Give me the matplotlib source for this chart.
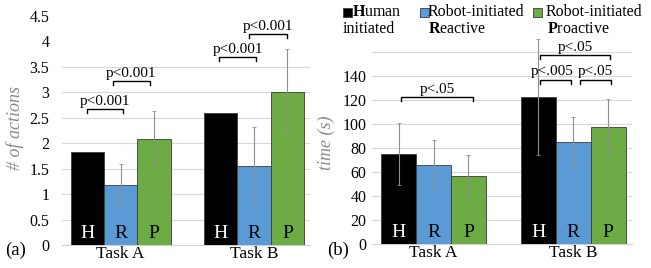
import matplotlib
matplotlib.use("Agg")
import matplotlib.pyplot as plt
import numpy as np
from matplotlib.transforms import blended_transform_factory
from matplotlib.patches import Rectangle

plt.rcParams['font.family'] = ['Liberation Serif', 'DejaVu Serif']
plt.rcParams['mathtext.fontset'] = 'custom'
plt.rcParams['mathtext.rm'] = 'Liberation Serif'
plt.rcParams['mathtext.bf'] = 'Liberation Serif:bold'

# ---- data ----
tasks = ["Task A", "Task B"]
series_letters = ["H", "R", "P"]
series_colors = ["#000000", "#5B9BD5", "#6DAB45"]
letter_colors = ["white", "black", "black"]

# (a) number of actions
actions_H = [1.83, 2.60]
actions_R = [1.18, 1.55]
actions_P = [2.08, 3.01]
actions_err_H = [0.0, 0.0]
actions_err_R = [0.42, 0.77]
actions_err_P = [0.55, 0.84]
a_ticks = [0, 0.5, 1, 1.5, 2, 2.5, 3, 3.5, 4, 4.5]
a_ticklabels = ["0", "0.5", "1", "1.5", "2", "2.5", "3", "3.5", "4", "4.5"]

# (b) time (s)
time_H = [75, 122.5]
time_R = [66, 85]
time_P = [57, 97.5]
time_err_H = [26, 48]
time_err_R = [21, 21]
time_err_P = [17, 23]
b_ticks = [0, 20, 40, 60, 80, 100, 120, 140, 160, 180]
b_ticklabels = ["0", "20", "40", "60", "80", "100", "120", "140", "", ""]

# brackets: (group, from bar idx, to bar idx, y, label, x shift of ends, text x shift)
a_brackets = [(0, 0, 1, 2.68, "p<0.001", (0.0, 0.02), 0.0),
              (0, 1, 2, 3.23, "p<0.001", (-0.06, -0.03), 0.0),
              (1, 0, 1, 3.70, "p<0.001", (-0.01, 0.015), 0.0),
              (1, 1, 2, 4.15, "p<0.001", (-0.04, -0.005), 0.0)]
b_brackets = [(0, 0, 2, 122.5, "p<.05", (0.02, 0.03), 0.0),
              (1, 0, 1, 137, "p<.005", (0.01, -0.015), -0.02),
              (1, 1, 2, 137, "p<.05", (0.05, 0.02), 0.0),
              (1, 0, 2, 157.5, "p<.05", (0.01, 0.015), 0.0)]

fig = plt.figure(figsize=(6.51, 2.68), dpi=100)
W, H = 651, 268
ax_a = fig.add_axes([62 / W, (H - 245) / H, 248 / W, 229 / H])
ax_b = fig.add_axes([372 / W, (H - 244) / H, 260 / W, 216 / H])

bw = 0.25
x = np.arange(len(tasks))
grid_col = "#d9d9d9"
err_col = "#8f8f8f"


def draw(ax, vals, errs, ticks, ticklabels, ylim, maxgrid, brackets, tick_len, ylabel, lab_xy, txt_off, tickpad):
    ax.set_ylim(*ylim)
    ax.set_xlim(-0.44, 1.42)
    tr = blended_transform_factory(ax.transData, ax.transAxes)
    for s, (v, e) in enumerate(zip(vals, errs)):
        xs = x + (s - 1) * bw
        ax.bar(xs, v, width=bw, color=series_colors[s], edgecolor="#3a3a3a",
               linewidth=0.6, zorder=3)
        for xi, vi, ei in zip(xs, v, e):
            if ei > 0:
                ax.errorbar([xi], [vi], yerr=[ei], fmt="none", ecolor=err_col,
                            elinewidth=0.8, capsize=1.5, capthick=0.6, zorder=4)
        for xi in xs:
            ax.text(xi, 0.012, series_letters[s], transform=tr, ha="center", va="bottom",
                    color=letter_colors[s], fontsize=14, zorder=5)
    ax.set_yticks(ticks)
    ax.set_yticklabels(ticklabels, fontsize=11.5)
    ax.tick_params(axis="y", length=0, pad=tickpad)
    ax.set_xticks(x)
    ax.set_xticklabels(tasks, fontsize=12.5)
    ax.tick_params(axis="x", length=0, pad=1)
    for t in ticks[1:]:
        if t <= maxgrid:
            ax.axhline(t, color=grid_col, lw=0.8, zorder=0)
    for sp in ["top", "right", "left"]:
        ax.spines[sp].set_visible(False)
    ax.spines["bottom"].set_color("#d0d0d0")
    ax.spines["bottom"].set_linewidth(0.8)
    ax.set_ylabel(ylabel, fontsize=13, style="italic", color="#8a8a8a")
    ax.yaxis.set_label_coords(*lab_xy)
    for g, i, j, y, lab, (s0, s1), tx in brackets:
        x0 = g + (i - 1) * bw + s0
        x1 = g + (j - 1) * bw + s1
        ax.plot([x0, x0, x1, x1], [y - tick_len, y, y, y - tick_len], color="black",
                lw=1.0, zorder=6, clip_on=False)
        ax.text((x0 + x1) / 2 + tx, y + txt_off, lab, ha="center", va="bottom",
                fontsize=11, zorder=6)


draw(ax_a, [actions_H, actions_R, actions_P], [actions_err_H, actions_err_R, actions_err_P],
     a_ticks, a_ticklabels, (0, 4.5), 3.5, a_brackets, 0.08, "# of actions",
     (-0.153, 0.511), 0.02, 9)
draw(ax_b, [time_H, time_R, time_P], [time_err_H, time_err_R, time_err_P],
     b_ticks, b_ticklabels, (0, 180), 160, b_brackets, 3.5, "time (s)",
     (-0.142, 0.468), 1.0, 4)

fig.text(5 / W, (H - 250) / H, "(a)", fontsize=13.5, va="center", ha="left")
fig.text(327 / W, (H - 250) / H, "(b)", fontsize=13.5, va="center", ha="left")

# legend (manual, Excel-style wrapping)
sq = 9
leg_items = [
    (343, 352, [r"$\mathbf{H}$uman", "initiated"], 343),
    (420, 428, ["Robot-initiated", r"$\mathbf{R}$eactive"], 428),
    (533, 546, ["Robot-initiated", r"$\mathbf{P}$roactive"], 547),
]
for s, (mx, tx, lines, tx2) in enumerate(leg_items):
    fig.patches.append(Rectangle((mx / W, (H - 17) / H), sq / W, sq / H,
                                 transform=fig.transFigure, facecolor=series_colors[s],
                                 edgecolor="#3a3a3a", linewidth=0.6))
    fig.text(tx / W, (H - 12) / H, lines[0], fontsize=11.5, va="center", ha="left")
    fig.text(tx2 / W, (H - 29) / H, lines[1], fontsize=11.5, va="center", ha="left")

fig.savefig("out.png", dpi=100)
